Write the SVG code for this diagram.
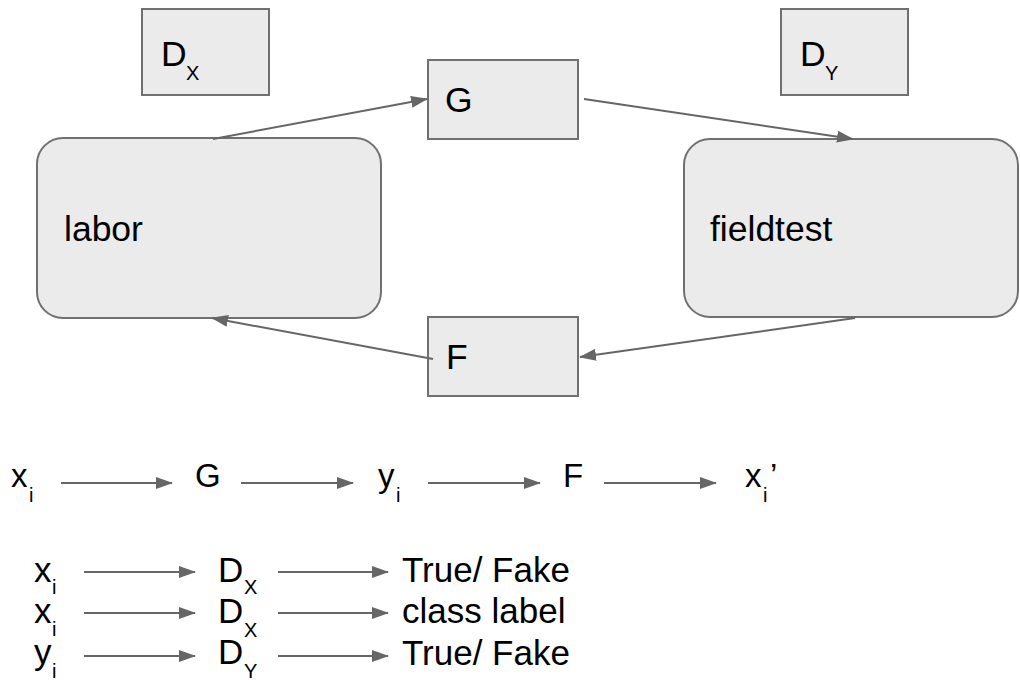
<svg xmlns="http://www.w3.org/2000/svg" width="1020" height="680" viewBox="0 0 1020 680">
<style>
.box{fill:#ebebeb;stroke:#707070;stroke-width:2}
.t{font-family:"Liberation Sans",Arial,sans-serif;fill:#000}
.big{font-size:35.5px}
.row{font-size:33px}
.lg{font-size:35px}
.sub{font-size:20px}
.c{stroke:#666;stroke-width:2;fill:none;marker-end:url(#ah)}
</style>
<defs>
<marker id="ah" markerUnits="userSpaceOnUse" markerWidth="17" markerHeight="12" refX="16" refY="6" orient="auto">
<path d="M0,0 L17,6 L0,12 z" fill="#666"/>
</marker>
</defs>
<rect width="1020" height="680" fill="#fff"/>
<g id="dx">
<rect class="box" x="142" y="9" width="127" height="86"/>
<text class="t big" x="161" y="66">D</text><text class="t sub" x="186" y="80">X</text>
</g>
<g id="dy">
<rect class="box" x="781" y="9" width="127" height="86"/>
<text class="t big" x="800" y="66">D</text><text class="t sub" x="825" y="80">Y</text>
</g>
<g id="g">
<rect class="box" x="428" y="60" width="150" height="79"/>
<text class="t big" x="445" y="112">G</text>
</g>
<g id="f">
<rect class="box" x="428" y="317" width="150" height="79"/>
<text class="t big" x="446" y="369">F</text>
</g>
<g id="labor">
<rect class="box" x="37" y="138" width="344" height="180" rx="26" ry="26"/>
<text class="t big" x="64" y="241">labor</text>
</g>
<g id="fieldtest">
<rect class="box" x="684" y="139" width="334" height="178" rx="26" ry="26"/>
<text class="t big" x="710" y="241">fieldtest</text>
</g>
<g id="connectors">
<line class="c" x1="213" y1="139" x2="427" y2="99"/>
<line class="c" x1="584" y1="99" x2="853" y2="139"/>
<line class="c" x1="855" y1="318" x2="580" y2="357"/>
<line class="c" x1="433" y1="359" x2="212" y2="318"/>
<line class="c" x1="61" y1="483" x2="172" y2="483"/>
<line class="c" x1="241" y1="483" x2="353" y2="483"/>
<line class="c" x1="428" y1="483" x2="540" y2="483"/>
<line class="c" x1="604" y1="483" x2="716" y2="483"/>
<line class="c" x1="84" y1="572" x2="195" y2="572"/>
<line class="c" x1="278" y1="572" x2="388" y2="572"/>
<line class="c" x1="84" y1="613" x2="195" y2="613"/>
<line class="c" x1="278" y1="613" x2="388" y2="613"/>
<line class="c" x1="84" y1="656" x2="195" y2="656"/>
<line class="c" x1="278" y1="656" x2="388" y2="656"/>
</g>
<g id="chain">
<text class="t row" x="11" y="487">x</text><text class="t sub" x="29" y="502">i</text>
<text class="t row" x="195" y="487">G</text>
<text class="t row" x="378" y="487">y</text><text class="t sub" x="396" y="502">i</text>
<text class="t row" x="563" y="487">F</text>
<text class="t row" x="745" y="487">x</text><text class="t sub" x="763" y="502">i</text><text class="t row" x="770" y="487">’</text>
</g>
<g id="rows">
<text class="t lg" x="34" y="582">x</text><text class="t sub" x="52" y="594">i</text>
<text class="t lg" x="218" y="582">D</text><text class="t sub" x="244" y="594">X</text>
<text class="t lg" x="402" y="582">True/ Fake</text>
<text class="t lg" x="34" y="623">x</text><text class="t sub" x="52" y="636">i</text>
<text class="t lg" x="218" y="623">D</text><text class="t sub" x="244" y="637">X</text>
<text class="t lg" x="402" y="623">class label</text>
<text class="t lg" x="34" y="664">y</text><text class="t sub" x="52" y="678">i</text>
<text class="t lg" x="218" y="664">D</text><text class="t sub" x="244" y="678">Y</text>
<text class="t lg" x="402" y="665">True/ Fake</text>
</g>
</svg>
